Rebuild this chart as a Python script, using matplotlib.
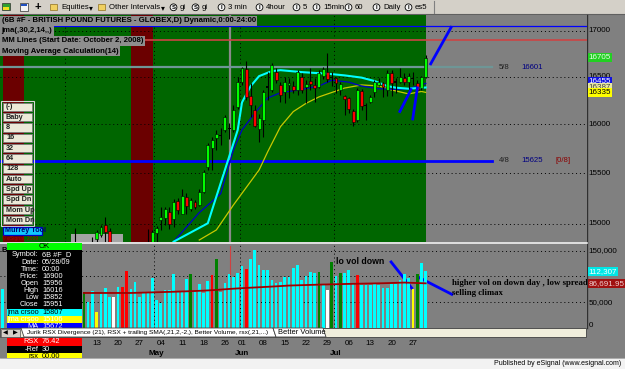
import numpy as np
import pandas as pd
import matplotlib
matplotlib.use("Agg")
import matplotlib.pyplot as plt
from matplotlib.patches import Rectangle, Polygon, Circle
from matplotlib.ticker import NullLocator
from matplotlib.transforms import blended_transform_factory as blend

plt.rcParams["font.family"] = ["Liberation Sans", "DejaVu Sans"]

# ---------------------------------------------------------------- data ----
# 6B #F daily bars, spring/summer 2009 (no session on Good Friday / Memorial Day)
dates = pd.bdate_range("2009-03-11", "2009-07-30")
dates = dates[~dates.isin(pd.to_datetime(["2009-04-10", "2009-05-25"]))]

# candles from bar 17 on; NaN = bar below the visible price range
candle_from = 17
nan = np.nan
p_open = [14820, nan, nan, nan, 14815, 14852, 14893, 14990, 14935, nan,
          nan, nan, nan, nan, nan, nan, nan, 14820, 14800, 14910,
          15039, 15060, 15120, 15046, 15225, 15097, 15267, 15143, 15218, 15186,
          15317, 15560, 15755, 15855, 15890, 15942, 15956, 15942, 16183, 16450,
          16581, 16297, 16150, 15957, 16045, 16380, 16361, 16557, 16414, 16340,
          16415, 16400, 16361, 16503, 16390, 16460, 16414, 16392, 16510, 16556,
          16503, 16485, 16361, 16297, 16272, 16143, 16045, 16354, 16200, 16237,
          16340, 16414, 16440, 16361, 16545, 16440, 16450, 16485, 16450, 16480,
          16430, 16380, 16497]
p_high = [14960, nan, nan, nan, 14877, 14942, 14990, 15065, 14958, nan,
          nan, nan, nan, nan, nan, nan, nan, 14949, 14942, 14980,
          15163, 15163, 15163, 15242, 15253, 15341, 15302, 15253, 15235, 15341,
          15530, 15805, 15873, 15942, 15959, 16100, 16016, 16202, 16503, 16610,
          16670, 16430, 16202, 16110, 16361, 16556, 16645, 16592, 16450, 16503,
          16485, 16460, 16574, 16540, 16467, 16592, 16485, 16574, 16610, 16760,
          16556, 16503, 16450, 16308, 16290, 16165, 16379, 16369, 16219, 16308,
          16467, 16485, 16450, 16574, 16574, 16485, 16592, 16540, 16538, 16556,
          16467, 16510, 16736]
p_low = [14780, nan, nan, nan, 14800, 14829, 14877, 14829, 14800, nan,
         nan, nan, nan, nan, nan, nan, nan, 14780, 14780, 14830,
         14942, 14990, 14949, 14968, 15093, 15093, 15093, 15125, 15143, 15176,
         15300, 15530, 15534, 15738, 15788, 15925, 15852, 15925, 16165, 16414,
         16254, 16080, 15970, 15819, 15873, 16254, 16343, 16430, 16236, 16219,
         16272, 16330, 16308, 16330, 16218, 16361, 16236, 16380, 16480, 16450,
         16400, 16325, 16308, 16097, 16115, 15983, 16027, 16150, 16045, 16219,
         16290, 16400, 16290, 16300, 16300, 16325, 16430, 16414, 16361, 16414,
         16325, 16361, 16485]
p_close = [14800, nan, nan, nan, 14805, 14925, 14974, 14925, 14829, nan,
           nan, nan, nan, nan, nan, nan, nan, 14800, 14925, 14964,
           15071, 15143, 15000, 15218, 15137, 15274, 15176, 15235, 15163, 15317,
           15515, 15788, 15839, 15905, 15880, 16080, 15951, 16150, 16450, 16592,
           16290, 16202, 15983, 16062, 16343, 16400, 16628, 16467, 16308, 16450,
           16440, 16360, 16556, 16361, 16420, 16420, 16380, 16540, 16580, 16475,
           16485, 16430, 16425, 16262, 16157, 16027, 16361, 16191, 16190, 16283,
           16445, 16450, 16390, 16538, 16430, 16460, 16503, 16450, 16510, 16490,
           16361, 16497, 16705]

# overlay studies, sampled along each line (bar number, price)
jma_fast_bar = [40, 48, 52, 55, 56, 58, 60, 63, 65, 70, 76, 80, 84, 87, 90, 92, 95, 99]
jma_fast = [14829, 15007, 15534, 15942, 16229, 16400, 16508, 16562, 16572, 16551,
            16534, 16516, 16492, 16456, 16402, 16385, 16374, 16387]
ma14_bar = [40, 46, 51, 54, 56, 59, 62, 65, 70, 74, 77, 81, 84, 88, 92, 95, 99]
ma14 = [14829, 15111, 15296, 15738, 15942, 16118, 16276, 16331, 16367, 16402,
        16465, 16444, 16402, 16374, 16367, 16374, 16430]
jma_slow_bar = [46, 50, 54, 60, 62, 65, 68, 71, 74, 80, 84, 88, 91, 95, 98, 99]
jma_slow = [14845, 14942, 15186, 15534, 15717, 15976, 16133, 16220, 16287, 16381,
            16414, 16404, 16361, 16319, 16345, 16335]

# Murrey math levels and the two horizontal reference lines
mm_58, mm_48 = 16601, 15625
top_blue, top_red = 17052, 16900
highlight_spans = [(0.1, 5.0), (30.0, 35.2)]      # maroon "divergence" bars

# hand-drawn trend strokes on the price pane (bar, price)
price_strokes = [((100.0, 16627), (105.1, 17052)),
                 ((92.8, 16121), (95.7, 16378)),
                 ((95.9, 16042), (97.1, 16397))]

# Better Volume; bars 1-18 sit under the data window
volume = [75900] + [nan] * 18 + [
    69300, 49700, 71200, 30100, 66000, 77100, 59500, 59500, 80400, 79100,
    110500, 75800, 88900, 60800, 67300, 67300, 96700, 54300, 47700, 73900,
    73900, 103900, 69300, 71200, 95400, 105200, 69300, 85600, 67300, 92200,
    102000, 134600, 69300, 86900, 105200, 98700, 106000, 119600, 115000, 134600,
    152300, 121600, 111800, 111800, 93500, 86900, 88900, 98700, 98700, 117000,
    121600, 93500, 100000, 108500, 107200, 108500, 85600, 73900, 128100, 100000,
    107200, 107200, 111800, 86900, 102000, 83700, 83700, 83700, 86900, 83700,
    77800, 77800, 85600, 85600, 93500, 105200, 97400, 75800, 105200, 126100,
    110500]
vol_type = ("c" + "-" * 18 + "gccycccwcr" + "rccccccccc" + "cccccgcccc" + "rgccccccrc"
            + "cccccccccc" + "cccccgcwgc" + "gcccrccccc" + "cccccccygc" + "c")
vol_ma_bar = [19, 30, 41, 47, 50, 53, 57, 63, 67, 75, 81, 89, 94, 99]
vol_ma = [68000, 68000, 70600, 72500, 73900, 75800, 77800, 80400, 82400, 84400,
          85600, 86900, 88200, 86692]
vol_strokes = [((90.9, 128200), (95.7, 77700)), ((97.4, 98100), (105.1, 65400))]

cursor_bar = 53.1
data_window_labels = ["Symbol:", "Date:", "Time:", "Price:", "Open", "High", "Low", "Close"]
data_window_values = ["6B #F_D", "05/28/09", "00:00", "16900", "15956", "16016", "15852", "15951"]
button_labels = ["(-)", "Baby", "8", "16", "32", "64", "128", "Auto",
                 "Spd Up", "Spd Dn", "Mom Up", "Mom Dn"]
header_lines = ["(6B #F - BRITISH POUND FUTURES - GLOBEX,D) Dynamic,0:00-24:00",
                "jma(,30,2,14,,)",
                "MM Lines (Start Date: October 2, 2008)",
                "Moving Average Calculation(14)"]

# ---------------------------------------------------------------- style ---
GREEN, MAROON, GRAY = "#006600", "#6B0000", "#808080"
VOLC = {"c": "#00FFFF", "g": "#008000", "r": "#FF0000", "w": "#FFFFFF", "y": "#FFFF00"}
XL = (-0.63, 136.74)
FS = 5.6
FIRST_LABELLED_BAR = 20     # date labels left of this sit under the data window

fig = plt.figure(figsize=(6.25, 3.69), dpi=100)
fig.patch.set_facecolor(GRAY)
R = fig.canvas.get_renderer()


def pixel_axes(z):
    a = fig.add_axes([0, 0, 1, 1], zorder=z)
    a.set_xlim(0, 625)
    a.set_ylim(369, 0)
    a.axis("off")
    return a


def bare(ax):
    ax.set_xlim(*XL)
    ax.set_facecolor(GRAY)
    for s in ax.spines.values():
        s.set_visible(False)
    ax.tick_params(which="both", left=False, bottom=False, labelleft=False, labelbottom=False)
    ax.yaxis.set_minor_locator(NullLocator())


ax_bg = pixel_axes(0)
ax_p = fig.add_axes([0, 1 - 242 / 369, 587 / 625, 227 / 369], zorder=1)
ax_v = fig.add_axes([0, 1 - 328 / 369, 587 / 625, 85 / 369], zorder=1)
ax_top = pixel_axes(5)

# ---- window chrome -------------------------------------------------------
ax_bg.add_patch(Rectangle((0, 0), 625, 14, fc="#D4D0C8", ec="none"))
ax_bg.plot([0, 625], [14.3, 14.3], color="#606060", lw=0.8)
ax_bg.add_patch(Rectangle((2, 3), 8, 7, fc="#30A030", ec="#303030", lw=0.5))
ax_bg.add_patch(Rectangle((3, 7), 6, 2.5, fc="#F0E020", ec="none"))
ax_bg.add_patch(Rectangle((20, 3), 8, 7.5, fc="#F4F4F4", ec="#303030", lw=0.5))
ax_bg.add_patch(Rectangle((21, 3.5), 6, 2, fc="#2050C0", ec="none"))
ax_bg.text(38, 7.3, "+", fontsize=8, fontweight="bold", ha="center", va="center")
for x0, label, arrow in [(50, "Equities", 89), (98, "Other Intervals", 161)]:
    ax_bg.add_patch(Rectangle((x0, 4), 7, 6, fc="#F0D060", ec="#907020", lw=0.5))
    ax_bg.text(x0 + 11, 7.3, label, fontsize=FS, va="center")
    ax_bg.text(arrow, 7.3, "▾", fontsize=FS, va="center", family="DejaVu Sans")
# circled S / I buttons: ring drawn as a shape, letter kept as text
for x0, letter, label in [(170, "S", "gi"), (192, "S", "gi"), (218, "I", "3 min"),
                          (256, "I", "4hour"), (293, "I", "5"), (313, "I", "15min"),
                          (345, "I", "60"), (373, "I", "Daily"), (405, "I", "es5")]:
    ax_bg.add_patch(Circle((x0 + 3.5, 7.3), 3.4, fc="#F4F4F4", ec="black", lw=0.6))
    ax_bg.text(x0 + 3.5, 7.4, letter, fontsize=4.3, fontweight="bold", ha="center", va="center")
    ax_bg.text(x0 + 10, 7.3, label, fontsize=FS, va="center")
ax_bg.plot([433.5, 433.5], [1, 13], color="#808080", lw=0.8)
ax_bg.plot([586.5, 586.5], [15, 328], color="#303030", lw=1.0)

# ---- price pane ----------------------------------------------------------
bare(ax_p)
ax_p.set_yscale("log")
ax_p.set_ylim(14826, 17175)
ax_p.yaxis.set_minor_locator(NullLocator())
ax_p.axvspan(XL[0] - 1, 99.0, color=GREEN, lw=0, zorder=0)
for a, b in highlight_spans:
    ax_p.axvspan(a, b, color=MAROON, lw=0, zorder=0.2)
ax_p.add_patch(Rectangle((71, 234), 52, 8, transform=ax_bg.transData,
                         fc="#A4A4A4", ec="none", zorder=0.5))

month_starts = [i for i in range(1, len(dates)) if dates[i].month != dates[i - 1].month]
for ax in (ax_p, ax_v):
    for i in month_starts:
        ax.axvline(i - 0.5, color="black", ls=(0, (1, 3)), lw=0.7, zorder=0.6)
for v in range(15000, 17001, 500):
    ax_p.axhline(v, color="black", ls=(0, (1, 3)), lw=0.7, zorder=0.6)

ax_p.axvline(cursor_bar, color="#8A8A8A", lw=1.6, zorder=0.7)
ax_p.axhline(top_blue, color="#0000FF", lw=0.9, zorder=1)
ax_p.axhline(top_red, color="#CC4444", lw=1.2, zorder=1)
ax_p.plot([XL[0], 114.6], [mm_58, mm_58], color="#6E9696", lw=1.6, zorder=1)
ax_p.plot([XL[0], 114.6], [mm_48, mm_48], color="#0000FF", lw=2.0, zorder=1)
ax_p.text(116.2, mm_58, "5/8", fontsize=FS, va="center", color="#202020")
ax_p.text(121.3, mm_58, f"{mm_58}", fontsize=FS, va="center", color="#000080")
ax_p.text(116.2, mm_48, "4/8", fontsize=FS, va="center", color="#202020")
ax_p.text(121.3, mm_48, f"{mm_48}", fontsize=FS, va="center", color="#000080")
ax_p.text(129.3, mm_48, "[0/8]", fontsize=FS, va="center", color="#8B0000")

ax_p.plot(jma_slow_bar, jma_slow, color="#C8C800", lw=0.9, zorder=2)
ax_p.plot(ma14_bar, ma14, color="#0000C8", lw=0.9, zorder=2)
ax_p.plot(jma_fast_bar, jma_fast, color="#00FFFF", lw=1.5, zorder=2)

o, h, l, c = (np.array(v, dtype=float) for v in (p_open, p_high, p_low, p_close))
x = np.arange(candle_from, candle_from + len(o))
ok = ~np.isnan(o)
up = ok & (c - o > 20)
dn = ok & (o - c > 20)
flat = ok & ~up & ~dn
ax_p.vlines(x[ok], l[ok], h[ok], color="black", lw=0.8, zorder=3)
ax_p.bar(x[up], (c - o)[up], bottom=o[up], width=0.68, color="#00FF00",
         edgecolor="black", lw=0.4, zorder=4)
ax_p.bar(x[dn], (o - c)[dn], bottom=c[dn], width=0.68, color="#FF0000",
         edgecolor="black", lw=0.4, zorder=4)
ax_p.bar(x[flat], np.maximum(np.abs(c - o)[flat], 8), bottom=np.minimum(o, c)[flat],
         width=0.68, color="black", lw=0, zorder=4)
for (x0, y0), (x1, y1) in price_strokes:
    ax_p.plot([x0, x1], [y0, y1], color="#0000FF", lw=2.0, zorder=5, solid_capstyle="butt")

tr_p = blend(ax_p.transAxes, ax_p.transData)
for v in range(15000, 17001, 500):
    ax_p.text(1.003, v, f"{v}", transform=tr_p, fontsize=5.8, va="center",
              clip_on=False, zorder=10)
for v, fc, tc in [(16705, "#22D022", "#E8FFE8"), (16455, "#1010E0", "white"),
                  (16387, "#E8E8A0", "#404040"), (16335, "#FFFF00", "black")]:
    ax_p.text(1.003, v, f"{v}", transform=tr_p, fontsize=5.8, va="center", color=tc,
              clip_on=False, zorder=11,
              bbox=dict(boxstyle="square,pad=0.12", fc=fc, ec="none"))

# ---- volume pane ---------------------------------------------------------
bare(ax_v)
ax_v.set_ylim(0, 165000)
for v in (50000, 100000, 150000):
    ax_v.axhline(v, color="black", ls=(0, (1, 3)), lw=0.7, zorder=0.6)
vol = np.array(volume, dtype=float)
vb = np.arange(len(vol))
vok = ~np.isnan(vol)
ax_v.bar(vb[vok], vol[vok], width=0.62, color=[VOLC[t] for t in np.array(list(vol_type))[vok]],
         lw=0, zorder=3)
ax_v.plot(vol_ma_bar, vol_ma, color="#A00000", lw=1.3, zorder=4)
ax_v.plot([cursor_bar, cursor_bar], [160000, 104000], color="#D04040", lw=0.8, zorder=4)
for (x0, y0), (x1, y1) in vol_strokes:
    ax_v.plot([x0, x1], [y0, y1], color="#0000FF", lw=2.0, zorder=2.5)
ax_v.text(78.0, 128200, "lo vol down", fontsize=6.3, fontweight="bold", va="center", zorder=6)
ax_v.text(105.1, 87400, "higher vol on down day , low spread", fontsize=6.3,
          fontweight="bold", va="center", family="Liberation Serif", zorder=6, clip_on=True)
ax_v.text(105.1, 68000, "selling climax", fontsize=6.3, fontweight="bold",
          va="center", family="Liberation Serif", zorder=6, clip_on=True)

tr_v = blend(ax_v.transAxes, ax_v.transData)
for v, s in [(150000, "150,000"), (50000, "50,000"), (4000, "0")]:
    ax_v.text(1.003, v, s, transform=tr_v, fontsize=5.8, va="center", clip_on=False, zorder=10)
for v, s, fc, tc in [(110500, "112,307", "#00E8E8", "white"),
                     (86692, "86,691.95", "#A01010", "#F0D0D0")]:
    ax_v.text(1.003, v, s, transform=tr_v, fontsize=5.8, va="center", color=tc,
              clip_on=False, zorder=11, bbox=dict(boxstyle="square,pad=0.12", fc=fc, ec="none"))

# date axis under the volume pane
tr_d = blend(ax_v.transData, ax_bg.transData)
for i in range(FIRST_LABELLED_BAR, len(dates)):
    if dates[i].weekday() < dates[i - 1].weekday():
        ax_v.text(i, 343.3, f"{dates[i].day:02d}", transform=tr_d, fontsize=5.8,
                  ha="center", va="center", clip_on=False)
for i in month_starts:
    if i >= FIRST_LABELLED_BAR:
        ax_v.text(i, 353.3, dates[i].strftime("%b"), transform=tr_d, fontsize=5.8,
                  fontweight="bold", ha="center", va="center", clip_on=False)
ax_v.plot([0, 587], [242.5, 242.5], transform=ax_bg.transData, color="#F0F0F0",
          lw=1.2, clip_on=False, zorder=12)

# ---- overlays: study header, button strip, data window, tabs -------------
ytop = 15.5
for k, s in enumerate(header_lines):
    t = ax_top.text(1.5, ytop + 5.1, s, fontsize=6.4, fontweight="bold", va="center", zorder=3)
    if k == 0:
        fs = t.get_fontsize() * 255 / t.get_window_extent(R).width
    t.set_fontsize(fs)
    w = t.get_window_extent(R).width
    ax_top.add_patch(Rectangle((0, ytop), w + 3, 10.2, fc="#8E8E8E", ec="none", zorder=2))
    ytop += 10.2

ax_top.add_patch(Rectangle((1, 101), 32.5, 124.5, fc="none", ec="#D8D8D8", lw=0.8))
for k, s in enumerate(button_labels):
    y0 = 102.7 + k * 10.3
    ax_top.add_patch(Rectangle((2.7, y0), 29.6, 8.3, fc="#ECE9D8", ec="#7A7A7A", lw=0.6))
    ax_top.text(6, y0 + 4.3, s, fontsize=5.2, va="center", fontweight="bold", color="#202020")
ax_top.add_patch(Rectangle((2.7, 226.7), 39, 8.5, fc="#10C8FF", ec="#0000C0", lw=0.9))
ax_top.text(5, 231, "Murrey Tool", fontsize=5.2, va="center", fontweight="bold", color="#000070")
ax_top.text(2, 238.6, "© eSignal, 2009", fontsize=3.6, va="center", color="#B00000")
ax_top.text(1.5, 251, "B", fontsize=5.5, va="center", fontweight="bold")

# data window
ax_top.add_patch(Rectangle((7.3, 243.3), 74.4, 6.8, fc="#00FF00", ec="none", zorder=2))
ax_top.text(44.5, 246.8, "OK", fontsize=5.6, ha="center", va="center", zorder=3)
ax_top.add_patch(Rectangle((7.3, 250), 74.4, 59, fc="black", ec="none", zorder=2))
for k, (lab, val) in enumerate(zip(data_window_labels, data_window_values)):
    yy = 255 + k * 7.05
    ax_top.text(38.5, yy, lab, fontsize=5.3, ha="right", va="center", color="white", zorder=3)
    ax_top.text(42, yy, val, fontsize=5.3, va="center", color="white", zorder=3)
for y0, hgt, fc, tc, lab, val in [(309, 7, "#00FFFF", "black", "jma crsoo", "15807"),
                                  (316, 6.7, "#FFFF00", "white", "jma crsoo", "15106"),
                                  (322.7, 6, "#0000FF", "white", "MA", "15672"),
                                  (338, 8, "#FF0000", "white", "RSX", "76.42"),
                                  (346, 6.7, "black", "white", "-Ref", "30"),
                                  (352.7, 5, "#FFFF00", "black", "rsx", "00.00")]:
    ax_top.add_patch(Rectangle((7.3, y0), 74.4, hgt, fc=fc, ec="none", zorder=2))
    ax_top.text(38.5, y0 + 3.6, lab, fontsize=5.3, ha="right", va="center", color=tc, zorder=3)
    ax_top.text(42, y0 + 3.6, val, fontsize=5.3, va="center", color=tc, zorder=3)

# tab bar
ax_top.add_patch(Rectangle((0, 328), 586, 9, fc="#F0EEDC", ec="#505050", lw=0.7, zorder=6))
ax_top.add_patch(Rectangle((0.5, 328.5), 19.5, 8, fc="#D4D0C8", ec="#505050", lw=0.5, zorder=6))
ax_top.text(5, 332.6, "◀", fontsize=4.5, ha="center", va="center", family="DejaVu Sans", zorder=7)
ax_top.text(15, 332.6, "▶", fontsize=4.5, ha="center", va="center", family="DejaVu Sans", zorder=7)
ax_top.add_patch(Polygon([(21, 328), (273, 328), (276, 337), (24, 337)], closed=True,
                         fc="white", ec="#404040", lw=0.6, zorder=6))
ax_top.add_patch(Polygon([(273, 328), (323, 328), (326, 337), (276, 337)], closed=True,
                         fc="white", ec="#404040", lw=0.6, zorder=6))
t = ax_top.text(27, 332.6, "Jurik RSX Divergence (21), RSX + trailing SMA(,21,2,-2,), Better Volume, rsx(,21,...)",
                fontsize=5.4, va="center", zorder=7)
t.set_fontsize(t.get_fontsize() * 243 / t.get_window_extent(R).width)
ax_top.text(278, 332.6, "Better Volume", fontsize=5.4, va="center", zorder=7)

# status strip
ax_top.add_patch(Rectangle((0, 357.5), 625, 11.5, fc="#F2F2F2", ec="none", zorder=6))
ax_top.plot([0, 625], [357.7, 357.7], color="#A0A0A0", lw=0.6, zorder=7)
t = ax_top.text(621, 363.4, "Published by eSignal (www.esignal.com)", fontsize=5.6,
                ha="right", va="center", zorder=7)
t.set_fontsize(t.get_fontsize() * 127 / t.get_window_extent(R).width)

fig.savefig("out.png", dpi=100, facecolor=fig.get_facecolor())
